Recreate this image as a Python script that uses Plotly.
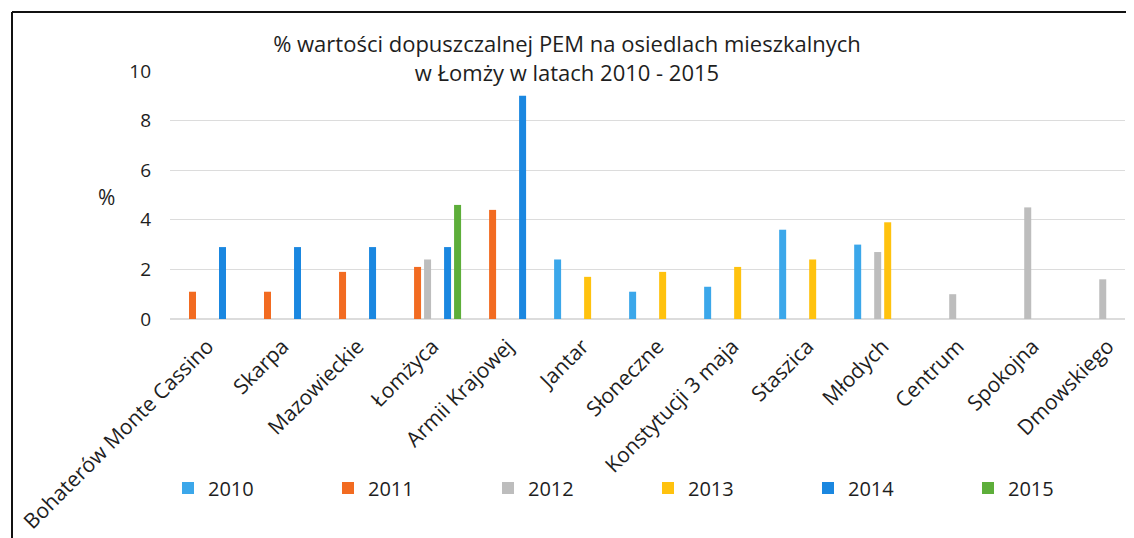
import plotly.graph_objects as go

categories = ["Bohaterów Monte Cassino", "Skarpa", "Mazowieckie", "Łomżyca", "Armii Krajowej",
              "Jantar", "Słoneczne", "Konstytucji 3 maja", "Staszica", "Młodych",
              "Centrum", "Spokojna", "Dmowskiego"]

v2010 = [None, None, None, None, None, 2.4, 1.1, 1.3, 3.6, 3.0, None, None, None]
v2011 = [1.1, 1.1, 1.9, 2.1, 4.4, None, None, None, None, None, None, None, None]
v2012 = [None, None, None, 2.4, None, None, None, None, None, 2.7, 1.0, 4.5, 1.6]
v2013 = [None, None, None, None, None, 1.7, 1.9, 2.1, 2.4, 3.9, None, None, None]
v2014 = [2.9, 2.9, 2.9, 2.9, 9.0, None, None, None, None, None, None, None, None]
v2015 = [None, None, None, 4.6, None, None, None, None, None, None, None, None, None]

series_names = ["2010", "2011", "2012", "2013", "2014", "2015"]
series_values = [v2010, v2011, v2012, v2013, v2014, v2015]
colors = ["#3BA7EA", "#F26B21", "#BDBDBD", "#FFC20E", "#1A87E0", "#5DAE3A"]

# page body has an 8px margin; figure sized so it fills the window
OFF = 8
W, H = 1134 - OFF, 538 - OFF
ml, mr, mt, mb = 162, 9, 63, 219
pw = W - ml - mr
ph = H - mt - mb

def px_x(x_ref):
    return (x_ref - OFF - ml) / pw

def px_y(y_ref):
    return (H - mb - (y_ref - OFF)) / ph

fig = go.Figure()
for name, vals, c in zip(series_names, series_values, colors):
    fig.add_trace(go.Bar(x=categories, y=vals, name=name, marker=dict(color=c, line=dict(width=0))))

font_family = "Open Sans, Liberation Sans, sans-serif"
txt = "#1E1E1E"

fig.update_layout(
    width=W, height=H,
    margin=dict(l=ml, r=mr, t=mt, b=mb),
    paper_bgcolor="white", plot_bgcolor="white",
    barmode="group", bargap=0.2, bargroupgap=0.3,
    font=dict(family=font_family, color=txt),
    title=dict(text="% wartości dopuszczalnej PEM na osiedlach mieszkalnych<br>w Łomży w latach 2010 - 2015",
               x=(567 - OFF) / W, xref="container", xanchor="center",
               y=1 - (52 - OFF) / H, yref="container", yanchor="middle",
               font=dict(size=22, color=txt, family=font_family)),
    xaxis=dict(type="category", range=[-0.5, 12.23], tickangle=-45, automargin=False,
               tickfont=dict(size=21, color=txt), showgrid=False,
               showline=False, ticks="", ticklabelstandoff=10),
    yaxis=dict(range=[0, 10], dtick=2, tickfont=dict(size=19, color=txt), automargin=False,
               showgrid=True, gridcolor="#DCDCDC", gridwidth=1, zeroline=True,
               zerolinecolor="#DCDCDC", showline=False, ticks="", ticklabelstandoff=18),
    legend=dict(orientation="h", x=px_x(168), xanchor="left", y=px_y(488), yanchor="middle",
                entrywidth=115, entrywidthmode="pixels", itemwidth=30,
                bgcolor="rgba(0,0,0,0)",
                font=dict(size=20, color=txt), traceorder="normal"),
    showlegend=True,
    annotations=[dict(text="%", xref="paper", yref="paper", x=px_x(106), y=px_y(197),
                      showarrow=False, font=dict(size=21, color=txt),
                      xanchor="center", yanchor="middle")],
    shapes=[
        dict(type="line", xref="paper", yref="paper", x0=px_x(12), x1=px_x(1140), y0=px_y(12), y1=px_y(12),
             line=dict(color="#111111", width=2)),
        dict(type="line", xref="paper", yref="paper", x0=px_x(12), x1=px_x(12), y0=px_y(12), y1=px_y(545),
             line=dict(color="#111111", width=2)),
    ],
)

fig.write_html("out.html")
